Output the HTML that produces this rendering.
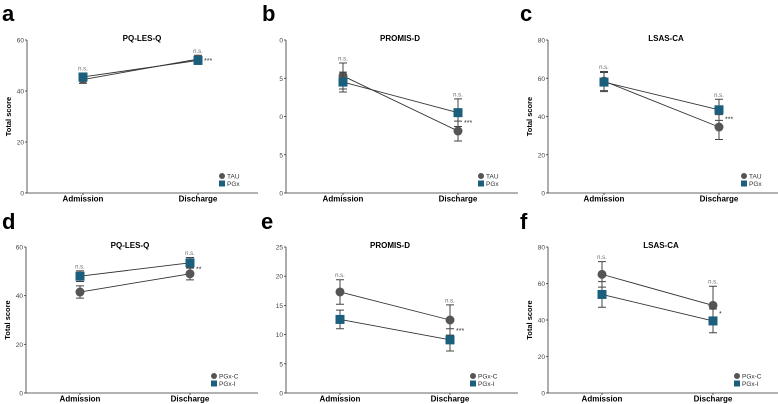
<!DOCTYPE html>
<html><head><meta charset="utf-8">
<style>
html,body{margin:0;padding:0;background:#fff;}
svg{display:block;font-family:"Liberation Sans",sans-serif;}
</style></head>
<body>
<svg id="fig" width="778" height="404" viewBox="0 0 778 404"></svg>
<script>
// Panel data
const categories = ["Admission","Discharge"];
const aTau = [44.5, 52.5], aTauErr = [1.5, 1.5], aPgx = [45.5, 52], aPgxErr = [1.5, 1.5];
const bTau = [15.3, 8.1], bTauErr = [1.7, 1.3], bPgx = [14.5, 10.5], bPgxErr = [1.3, 1.8];
const cTau = [58.5, 34.5], cTauErr = [5, 6.5], cPgx = [58, 43.5], cPgxErr = [5, 5.5];
const dC = [41.5, 49], dCErr = [2.5, 2.5], dI = [48, 53.5], dIErr = [2.2, 2.2];
const eC = [17.3, 12.5], eCErr = [2.1, 2.6], eI = [12.6, 9.1], eIErr = [1.6, 1.9];
const fC = [65, 48], fCErr = [7, 10.5], fI = [54, 39.5], fIErr = [7, 6.5];
const ticksA = [0,20,40,60], ticksB = [0,5,10,15,20], ticksC = [0,20,40,60,80];
const ticksD = [0,20,40,60], ticksE = [0,5,10,15,20,25], ticksF = [0,20,40,60,80];
const legendTop = ["TAU","PGx"], legendBottom = ["PGx-C","PGx-I"];
const sigTop = ["***","***","***"], sigBottom = ["**","***","*"];

const NS = "http://www.w3.org/2000/svg";
const svg = document.getElementById('fig');
function mk(tag, attrs, parent, text){
  const el = document.createElementNS(NS, tag);
  for (const k in attrs) el.setAttribute(k, attrs[k]);
  if (text !== undefined) el.textContent = text;
  (parent || svg).appendChild(el);
  return el;
}
const GRAY = "#555", TEAL = "#1b5f7c";

function panel(o){
  const g = mk('g', {});
  
  
  const y = v => o.bottom - (v / o.max) * (o.bottom - o.top);
  const x = i => i === 0 ? o.x0 : o.x1;
  const lt = mk('text', {x:o.lx, y:o.ly, 'font-size':22, 'font-weight':'bold', fill:'#000'}, g, o.letter);
  
  
  const tt = mk('text', {x:o.tx, y:o.top + 1, 'font-size':8, 'font-weight':'bold', 'text-anchor':'middle', fill:'#000'}, g, o.title);
  
  
  const ax = mk('path', {d:`M${o.ax} ${o.top}V${o.bottom}H${o.right}`, stroke:'#333', 'stroke-width':0.8, fill:'none'}, g);
  
  
  let clip = null;
  if (o.clipX) {
    const cp = mk('clipPath', {id:'clip' + o.letter}, svg);
    mk('rect', {x:o.clipX, y:0, width:40, height:404}, cp);
    clip = 'url(#clip' + o.letter + ')';
  }
  o.ticks.forEach(t => {
    mk('line', {x1:o.ax - 2, x2:o.ax, y1:y(t), y2:y(t), stroke:'#333', 'stroke-width':0.8}, g);
    const tl = mk('text', {x:o.ax - 3, y:y(t) + 2.5, 'font-size':6.5, 'text-anchor':'end', fill:'#444'}, g, t);
    if (clip) tl.setAttribute('clip-path', clip);
    
    
  });
  if (o.ylab) {
    const yl = mk('text', {x:0, y:0, 'font-size':7.5, 'font-weight':'bold', 'text-anchor':'middle', fill:'#000',
      transform:`translate(${o.ax - 16},${(o.top + o.bottom) / 2}) rotate(-90)`}, g, 'Total score');
    
    
  }
  categories.forEach((c, i) => {
    mk('line', {x1:x(i), x2:x(i), y1:o.bottom, y2:o.bottom + 2, stroke:'#333', 'stroke-width':0.8}, g);
    const cl = mk('text', {x:x(i), y:o.bottom + 8.5, 'font-size':8, 'font-weight':'bold', 'text-anchor':'middle', fill:'#000'}, g, c);
    
    
  });
  const series = [{v:o.s1, e:o.e1, c:GRAY, sq:false}, {v:o.s2, e:o.e2, c:TEAL, sq:true}];
  series.forEach((s, si) => {
    const sg = mk('g', {}, g);
    
    
    mk('line', {x1:x(0), y1:y(s.v[0]), x2:x(1), y2:y(s.v[1]), stroke:'#333', 'stroke-width':0.9}, sg);
    s.v.forEach((v, i) => {
      const yt = y(v + s.e[i]), yb = y(v - s.e[i]);
      mk('path', {d:`M${x(i)} ${yt}V${yb}M${x(i)-4} ${yt}H${x(i)+4}M${x(i)-4} ${yb}H${x(i)+4}`, stroke:'#444', 'stroke-width':1, fill:'none'}, sg);
      let m;
      if (s.sq) m = mk('rect', {x:x(i) - 4.5, y:y(v) - 4.5, width:9, height:9, fill:s.c}, sg);
      else m = mk('circle', {cx:x(i), cy:y(v), r:4.5, fill:s.c}, sg);
      
      
    });
  });
  categories.forEach((c, i) => {
    const topV = Math.max(o.s1[i] + o.e1[i], o.s2[i] + o.e2[i]);
    const ns = mk('text', {x:x(i), y:y(topV) - 2.5, 'font-size':6, 'text-anchor':'middle', fill:'#666'}, g, 'n.s.');
    
    
  });
  const midV = (o.s1[1] + o.s2[1]) / 2;
  const st = mk('text', {x:x(1) + 6, y:y(midV) + 3, 'font-size':7, fill:'#333'}, g, o.sig);
  
  
  const lg = mk('g', {}, g);
  
  
  o.legend.forEach((l, i) => {
    const ly = o.bottom - 17 + i * 7.5;
    if (i === 0) mk('circle', {cx:o.legX, cy:ly, r:3, fill:GRAY}, lg);
    else mk('rect', {x:o.legX - 3, y:ly - 3, width:6, height:6, fill:TEAL}, lg);
    const le = mk('text', {x:o.legX + 5, y:ly + 2.3, 'font-size':6.5, fill:'#333'}, lg, l);
    
    
  });
}

panel({letter:'a', lx:2, ly:21, title:'PQ-LES-Q', tx:142, ax:27, top:40, bottom:193, right:258, x0:83, x1:198, max:60, ticks:ticksA, ylab:true,
  s1:aTau, e1:aTauErr, s2:aPgx, e2:aPgxErr, legend:legendTop, legX:222, sig:sigTop[0]});
panel({letter:'b', lx:262, ly:21, title:'PROMIS-D', tx:400, ax:286, top:40, bottom:193, right:518, x0:343, x1:458, max:20, ticks:ticksB, ylab:false, clipX:279,
  s1:bTau, e1:bTauErr, s2:bPgx, e2:bPgxErr, legend:legendTop, legX:481, sig:sigTop[1]});
panel({letter:'c', lx:520, ly:21, title:'LSAS-CA', tx:666, ax:548, top:40, bottom:193, right:778, x0:604, x1:719, max:80, ticks:ticksC, ylab:true,
  s1:cTau, e1:cTauErr, s2:cPgx, e2:cPgxErr, legend:legendTop, legX:744, sig:sigTop[2]});
panel({letter:'d', lx:2, ly:229, title:'PQ-LES-Q', tx:130, ax:26, top:247, bottom:393, right:258, x0:80, x1:190, max:60, ticks:ticksD, ylab:true,
  s1:dC, e1:dCErr, s2:dI, e2:dIErr, legend:legendBottom, legX:214, sig:sigBottom[0]});
panel({letter:'e', lx:261, ly:229, title:'PROMIS-D', tx:390, ax:286, top:247, bottom:393, right:518, x0:340, x1:450, max:25, ticks:ticksE, ylab:false,
  s1:eC, e1:eCErr, s2:eI, e2:eIErr, legend:legendBottom, legX:473, sig:sigBottom[1]});
panel({letter:'f', lx:520, ly:229, title:'LSAS-CA', tx:661, ax:548, top:247, bottom:393, right:778, x0:602, x1:713, max:80, ticks:ticksF, ylab:true,
  s1:fC, e1:fCErr, s2:fI, e2:fIErr, legend:legendBottom, legX:737, sig:sigBottom[2]});
</script>
</body></html>
